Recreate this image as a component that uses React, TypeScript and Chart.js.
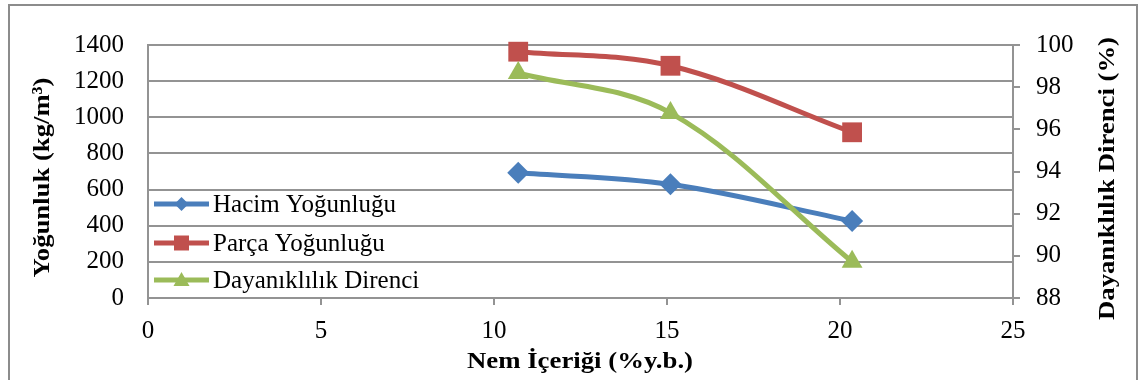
import React, { useEffect, useRef } from "react";
import { Chart, registerables } from "chart.js";

Chart.register(...registerables);

// ---- Data ----
const moisture = [10.7, 15.1, 20.35];
const bulkDensity = [693, 629, 426];
const particleDensity = [1363, 1285, 917];
const durability = [98.67, 96.78, 89.72];
const seriesNames = ["Hacim Yoğunluğu", "Parça Yoğunluğu", "Dayanıklılık Direnci"];
const seriesColors = ["#4A7EBB", "#C0504D", "#9BBB59"];
const xTitle = "Nem İçeriği (%y.b.)";
const yTitle = "Yoğunluk (kg/m³)";
const y1Title = "Dayanıklılık Direnci (%)";

const SERIF = "'Liberation Serif', 'Times New Roman', serif";
const GRID = "#939393";

function drawMarker(ctx: CanvasRenderingContext2D, style: string, x: number, y: number, r: number, color: string) {
  ctx.save();
  ctx.fillStyle = color;
  ctx.beginPath();
  if (style === "rectRot") {
    ctx.moveTo(x, y - r);
    ctx.lineTo(x + r, y);
    ctx.lineTo(x, y + r);
    ctx.lineTo(x - r, y);
    ctx.closePath();
  } else if (style === "rect") {
    ctx.rect(x - r, y - r, 2 * r, 2 * r);
  } else {
    ctx.moveTo(x, y - r);
    ctx.lineTo(x + r, y + r * 0.75);
    ctx.lineTo(x - r, y + r * 0.75);
    ctx.closePath();
  }
  ctx.fill();
  ctx.restore();
}

// draws text centred on cx along its direction, baseline through the anchor, stretched to a target length
function fitText(ctx: CanvasRenderingContext2D, text: string, cx: number, cy: number, rot: number, target: number) {
  const w = ctx.measureText(text).width;
  ctx.save();
  ctx.translate(cx, cy);
  ctx.rotate(rot);
  ctx.scale(target / w, 1);
  ctx.fillText(text, 0, 0);
  ctx.restore();
}

const decorPlugin = {
  id: "decor",
  beforeDraw(chart: any) {
    const ctx = chart.ctx as CanvasRenderingContext2D;
    ctx.save();
    ctx.fillStyle = "#fff";
    ctx.fillRect(0, 0, chart.width, chart.height);
    ctx.strokeStyle = "#8c8c8c";
    ctx.lineWidth = 2;
    ctx.strokeRect(9, 5, 1128, 400);
    ctx.restore();
  },
  afterDraw(chart: any) {
    const ctx = chart.ctx as CanvasRenderingContext2D;
    const area = chart.chartArea;
    ctx.save();
    ctx.fillStyle = "#000";
    // axis titles
    ctx.font = `bold 24px ${SERIF}`;
    ctx.textAlign = "center";
    ctx.textBaseline = "alphabetic";
    fitText(ctx, yTitle, 49, 177.5, -Math.PI / 2, 200);
    fitText(ctx, y1Title, 1114, 178.5, -Math.PI / 2, 283);
    fitText(ctx, xTitle, 580, 368, 0, 226);

    // legend
    const styles = ["rectRot", "rect", "triangle"];
    const sizes = [7, 7.5, 8];
    const ys = [area.top + 159, area.top + 198, area.top + 235];
    ctx.font = `25px ${SERIF}`;
    ctx.textAlign = "left";
    ctx.textBaseline = "middle";
    for (let i = 0; i < seriesNames.length; i++) {
      const y = ys[i];
      ctx.strokeStyle = seriesColors[i];
      ctx.lineWidth = 5;
      ctx.beginPath();
      ctx.moveTo(area.left + 6, y);
      ctx.lineTo(area.left + 61, y);
      ctx.stroke();
      drawMarker(ctx, styles[i], area.left + 33.5, y, sizes[i], seriesColors[i]);
      ctx.fillStyle = "#000";
      ctx.fillText(seriesNames[i], area.left + 65, y + 1);
    }
    ctx.restore();
  },
};

const plain = (v: any) => String(v);

export default function App() {
  const ref = useRef<HTMLCanvasElement | null>(null);

  useEffect(() => {
    if (!ref.current) return;
    const mk = (vals: number[]) => moisture.map((x, i) => ({ x, y: vals[i] }));
    const common = {
      borderWidth: 5,
      pointBorderWidth: 0,
      tension: 0.35,
      clip: false as any,
    };
    const chart = new Chart(ref.current, {
      type: "line",
      data: {
        datasets: [
          {
            ...common,
            label: seriesNames[0],
            data: mk(bulkDensity),
            yAxisID: "y",
            borderColor: seriesColors[0],
            backgroundColor: seriesColors[0],
            pointBackgroundColor: seriesColors[0],
            pointBorderColor: seriesColors[0],
            pointStyle: "rectRot",
            pointRadius: 11,
            order: 2,
          },
          {
            ...common,
            label: seriesNames[1],
            data: mk(particleDensity),
            yAxisID: "y",
            borderColor: seriesColors[1],
            backgroundColor: seriesColors[1],
            pointBackgroundColor: seriesColors[1],
            pointBorderColor: seriesColors[1],
            pointStyle: "rect",
            pointRadius: 14,
            order: 1,
          },
          {
            ...common,
            label: seriesNames[2],
            data: mk(durability),
            yAxisID: "y1",
            borderColor: seriesColors[2],
            backgroundColor: seriesColors[2],
            pointBackgroundColor: seriesColors[2],
            pointBorderColor: seriesColors[2],
            pointStyle: "triangle",
            pointRadius: 12,
            order: 0,
          },
        ],
      },
      options: {
        animation: false,
        responsive: false,
        devicePixelRatio: 1,
        layout: { padding: { top: 45, left: 0, right: 0, bottom: 0 } },
        plugins: { legend: { display: false }, tooltip: { enabled: false } },
        scales: {
          x: {
            type: "linear",
            min: 0,
            max: 25,
            ticks: { stepSize: 5, padding: 11, color: "#000", font: { family: SERIF, size: 25 }, callback: plain },
            grid: { drawOnChartArea: false, drawTicks: true, tickLength: 7, color: GRID, lineWidth: 2 },
            border: { display: true, color: GRID, width: 2 },
            afterFit: (s: any) => { s.height = 82; },
          },
          y: {
            type: "linear",
            position: "left",
            min: 0,
            max: 1400,
            ticks: { stepSize: 200, padding: 24, color: "#000", font: { family: SERIF, size: 25 }, callback: plain },
            grid: { drawTicks: false, color: GRID, lineWidth: 2 },
            border: { display: true, color: GRID, width: 2 },
            afterFit: (s: any) => { s.width = 148; },
          },
          y1: {
            type: "linear",
            position: "right",
            min: 88,
            max: 100,
            ticks: { stepSize: 2, padding: 16, color: "#000", font: { family: SERIF, size: 25 }, callback: plain },
            grid: { drawOnChartArea: false, drawTicks: true, tickLength: 7, color: GRID, lineWidth: 2 },
            border: { display: true, color: GRID, width: 2 },
            afterFit: (s: any) => { s.width = 127; },
          },
        },
      } as any,
      plugins: [decorPlugin],
    });
    return () => chart.destroy();
  }, []);

  return (
    <div style={{ position: "fixed", left: 0, top: 0, width: 1140, height: 380, background: "#fff" }}>
      <canvas ref={ref} width={1140} height={380} style={{ display: "block" }} />
    </div>
  );
}
